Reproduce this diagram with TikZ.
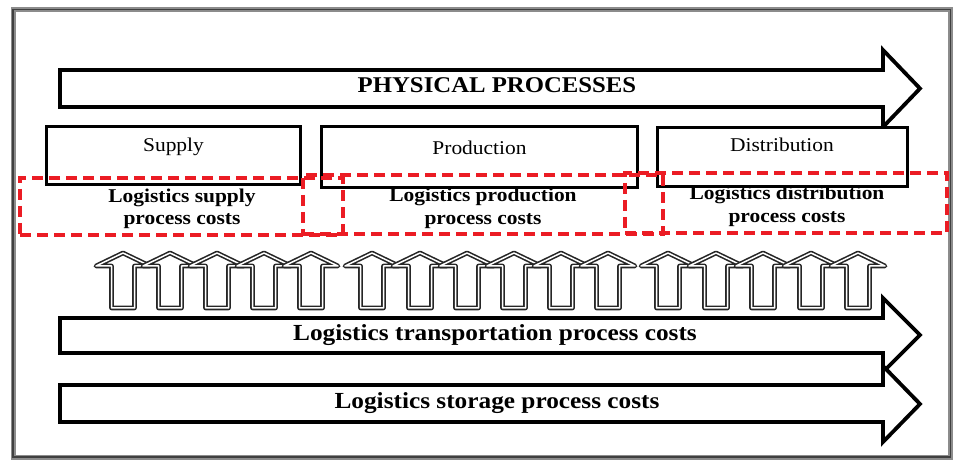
\documentclass[tikz,border=0pt]{standalone}
\usepackage{fontspec}
\setmainfont{Liberation Serif}[FakeStretch=1.1]
\definecolor{costred}{RGB}{235,28,36}
\begin{document}
\begin{tikzpicture}[x=1pt,y=-1pt,
  framestyle/.style={draw=black!45, line width=5pt},
  frameinner/.style={draw=black!75, line width=1.8pt},
  bigarrow/.style={draw=black, line width=3.8pt, fill=white, line join=miter},
  procbox/.style={draw=black, line width=3pt, fill=white, inner sep=0pt},
  costbox/.style={draw=costred, line width=3.2pt, dash pattern=on 11pt off 6pt, inner sep=0pt},
  uparrowstyle/.style={draw=black!85, line width=1.6pt, double=white, double distance=1.5pt, fill=white, line join=round},
  titletxt/.style={font=\bfseries\fontsize{22.5}{27}\selectfont, inner sep=0pt},
  boxtxt/.style={font=\fontsize{19.5}{23}\selectfont, inner sep=0pt},
  costtxt/.style={font=\bfseries\fontsize{19.5}{23}\selectfont, inner sep=0pt},
  bandtxt/.style={font=\bfseries\fontsize{23}{27}\selectfont, inner sep=0pt},
  uparr/.pic={\draw[uparrowstyle] (0,0) -- (27,13) -- (11.5,13) -- (11.5,55) -- (-11.5,55) -- (-11.5,13) -- (-27,13) -- cycle;}
]
\useasboundingbox (0,0) rectangle (953,462);
\fill[white] (0,0) rectangle (953,462);
% outer frame
\draw[framestyle] (13,9.5) rectangle (950.5,457);
\draw[frameinner] (13,9.5) rectangle (950.5,457);
% top arrow
\draw[bigarrow] (60,70) -- (883,70) -- (883,50) -- (920,88.5) -- (883,127) -- (883,107) -- (60,107) -- cycle;
% process boxes
\node[procbox, minimum width=254pt, minimum height=58pt] (supply) at (173,156) {};
\node[procbox, minimum width=316pt, minimum height=61pt] (production) at (479,157.5) {};
\node[procbox, minimum width=250pt, minimum height=59pt] (distribution) at (782,157.5) {};
% cost boxes
\node[costbox, minimum width=323pt, minimum height=57pt] (supplycost) at (181.5,206.5) {};
\node[costbox, minimum width=360pt, minimum height=59pt] (productioncost) at (483,204.5) {};
\node[costbox, minimum width=322pt, minimum height=60pt] (distributioncost) at (786,203) {};
% up arrows
\foreach \x in {123,170,217,264,311,372,420,467,514,561,608,668,716,763,811,858}
  \pic at (\x,253) {uparr};
% bottom arrows
\draw[bigarrow] (60,318) -- (883,318) -- (883,298) -- (920,335) -- (883,372) -- (883,353) -- (60,353) -- cycle;
\draw[bigarrow] (60,385) -- (883,385) -- (883,366) -- (920,404) -- (883,442) -- (883,422) -- (60,422) -- cycle;
% texts
\node[titletxt, anchor=base] (title) at (497,93) {PHYSICAL PROCESSES};
\node[boxtxt, anchor=base] (supplylbl) at (173.5,152) {Supply};
\node[boxtxt, anchor=base] (productionlbl) at (479.5,155) {Production};
\node[boxtxt, anchor=base] (distributionlbl) at (782,152) {Distribution};
\node[costtxt, anchor=base] (supplycostA) at (182,203) {Logistics supply};
\node[costtxt, anchor=base] (supplycostB) at (182,225) {process costs};
\node[costtxt, anchor=base] (productioncostA) at (483,202) {Logistics production};
\node[costtxt, anchor=base] (productioncostB) at (483,225) {process costs};
\node[costtxt, anchor=base] (distributioncostA) at (787,200) {Logistics distribution};
\node[costtxt, anchor=base] (distributioncostB) at (787,223) {process costs};
\node[bandtxt, anchor=base] (transport) at (495,341) {Logistics transportation process costs};
\node[bandtxt, anchor=base] (storage) at (497,408) {Logistics storage process costs};
\end{tikzpicture}
\end{document}
